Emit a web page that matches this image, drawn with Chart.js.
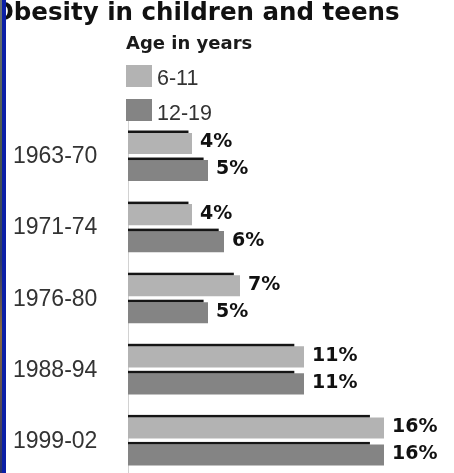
<!DOCTYPE html>
<html>
<head>
<meta charset="utf-8">
<script src="https://cdn.jsdelivr.net/npm/chart.js@4"></script>
<style>
    html, body { margin: 0; padding: 0; background: #fff; overflow: hidden; }
    #wrap { position: relative; width: 454px; height: 473px; overflow: hidden; }
    #chart { position: absolute; left: 0; top: 0; }
    .edge { position: absolute; top: 0; height: 473px; }
    .title { position: absolute; left: -7px; top: 0; font: bold 24.5px "DejaVu Sans"; line-height: 1; color: #111; white-space: nowrap; }
    .sub { position: absolute; left: 126px; top: 34px; font: bold 18px "DejaVu Sans"; line-height: 1; color: #1a1a1a; }
    .swatch { position: absolute; left: 126px; width: 26px; height: 22px; }
    .key { position: absolute; left: 157px; font: 21.5px "Liberation Sans"; line-height: 1; color: #333; }
</style>
</head>
<body>
<div id="wrap">
    <canvas id="chart" width="454" height="477"></canvas>
    <div class="title">Obesity in children and teens</div>
    <div class="sub">Age in years</div>
    <div class="swatch" id="sw0" style="top:65px"></div>
    <div class="key" id="key0" style="top:68px"></div>
    <div class="swatch" id="sw1" style="top:99px"></div>
    <div class="key" id="key1" style="top:103px"></div>
    <div class="edge" style="left:0;width:2px;background:linear-gradient(#6b7478,#4d5a48 30%,#2c3a6a 55%,#8a6a3c 70%,#26306a)"></div>
    <div class="edge" style="left:2px;width:4px;background:#0b1fa6"></div>
</div>
<script>
const periods = ['1963-70', '1971-74', '1976-80', '1988-94', '1999-02'];
const ageGroups = ['6-11', '12-19'];
const kids = [4, 4, 7, 11, 16];
const teens = [5, 6, 5, 11, 16];
const barColors = ['#b3b3b3', '#848484'];

// legend swatches and labels
ageGroups.forEach((g, i) => {
    document.getElementById('sw' + i).style.background = barColors[i];
    document.getElementById('key' + i).textContent = g;
});

// thin dark edge along the top of each bar, plus the value to the right
const barDecor = {
    id: 'barDecor',
    afterDatasetsDraw(chart) {
        const ctx = chart.ctx;
        ctx.save();
        chart.data.datasets.forEach((ds, di) => {
            chart.getDatasetMeta(di).data.forEach((bar, i) => {
                const top = bar.y - bar.height / 2;
                const len = (bar.x - bar.base) * 0.945;
                ctx.fillStyle = '#151515';
                ctx.fillRect(bar.base, top - 2.5, len, 2.5);

                ctx.fillStyle = '#111';
                ctx.font = 'bold 19px "DejaVu Sans"';
                ctx.textAlign = 'left';
                ctx.textBaseline = 'middle';
                ctx.fillText(ds.data[i] + '%', bar.x + 8, bar.y - 1);
            });
        });
        ctx.restore();
    }
};

new Chart(document.getElementById('chart'), {
    type: 'bar',
    data: {
        labels: periods,
        datasets: [
            { label: ageGroups[0], data: kids, backgroundColor: barColors[0] },
            { label: ageGroups[1], data: teens, backgroundColor: barColors[1] }
        ]
    },
    options: {
        indexAxis: 'y',
        responsive: false,
        animation: false,
        categoryPercentage: 0.76,
        barPercentage: 0.78,
        layout: { padding: { left: 13, top: 121.5, right: 6, bottom: 0 } },
        plugins: {
            legend: { display: false },
            tooltip: { enabled: false }
        },
        scales: {
            x: { display: false, min: 0, max: 20 },
            y: {
                afterFit(scale) {
                    scale.width = 115;
                    // labels sit well inside the plot, no extra room needed
                    scale.paddingTop = 0;
                    scale.paddingBottom = 0;
                },
                grid: { display: false },
                border: { display: true, color: '#d2d2d2', width: 1 },
                ticks: {
                    crossAlign: 'far',
                    color: '#333',
                    font: { family: 'Liberation Sans', size: 23 }
                }
            }
        }
    },
    plugins: [barDecor]
});
</script>
</body>
</html>
